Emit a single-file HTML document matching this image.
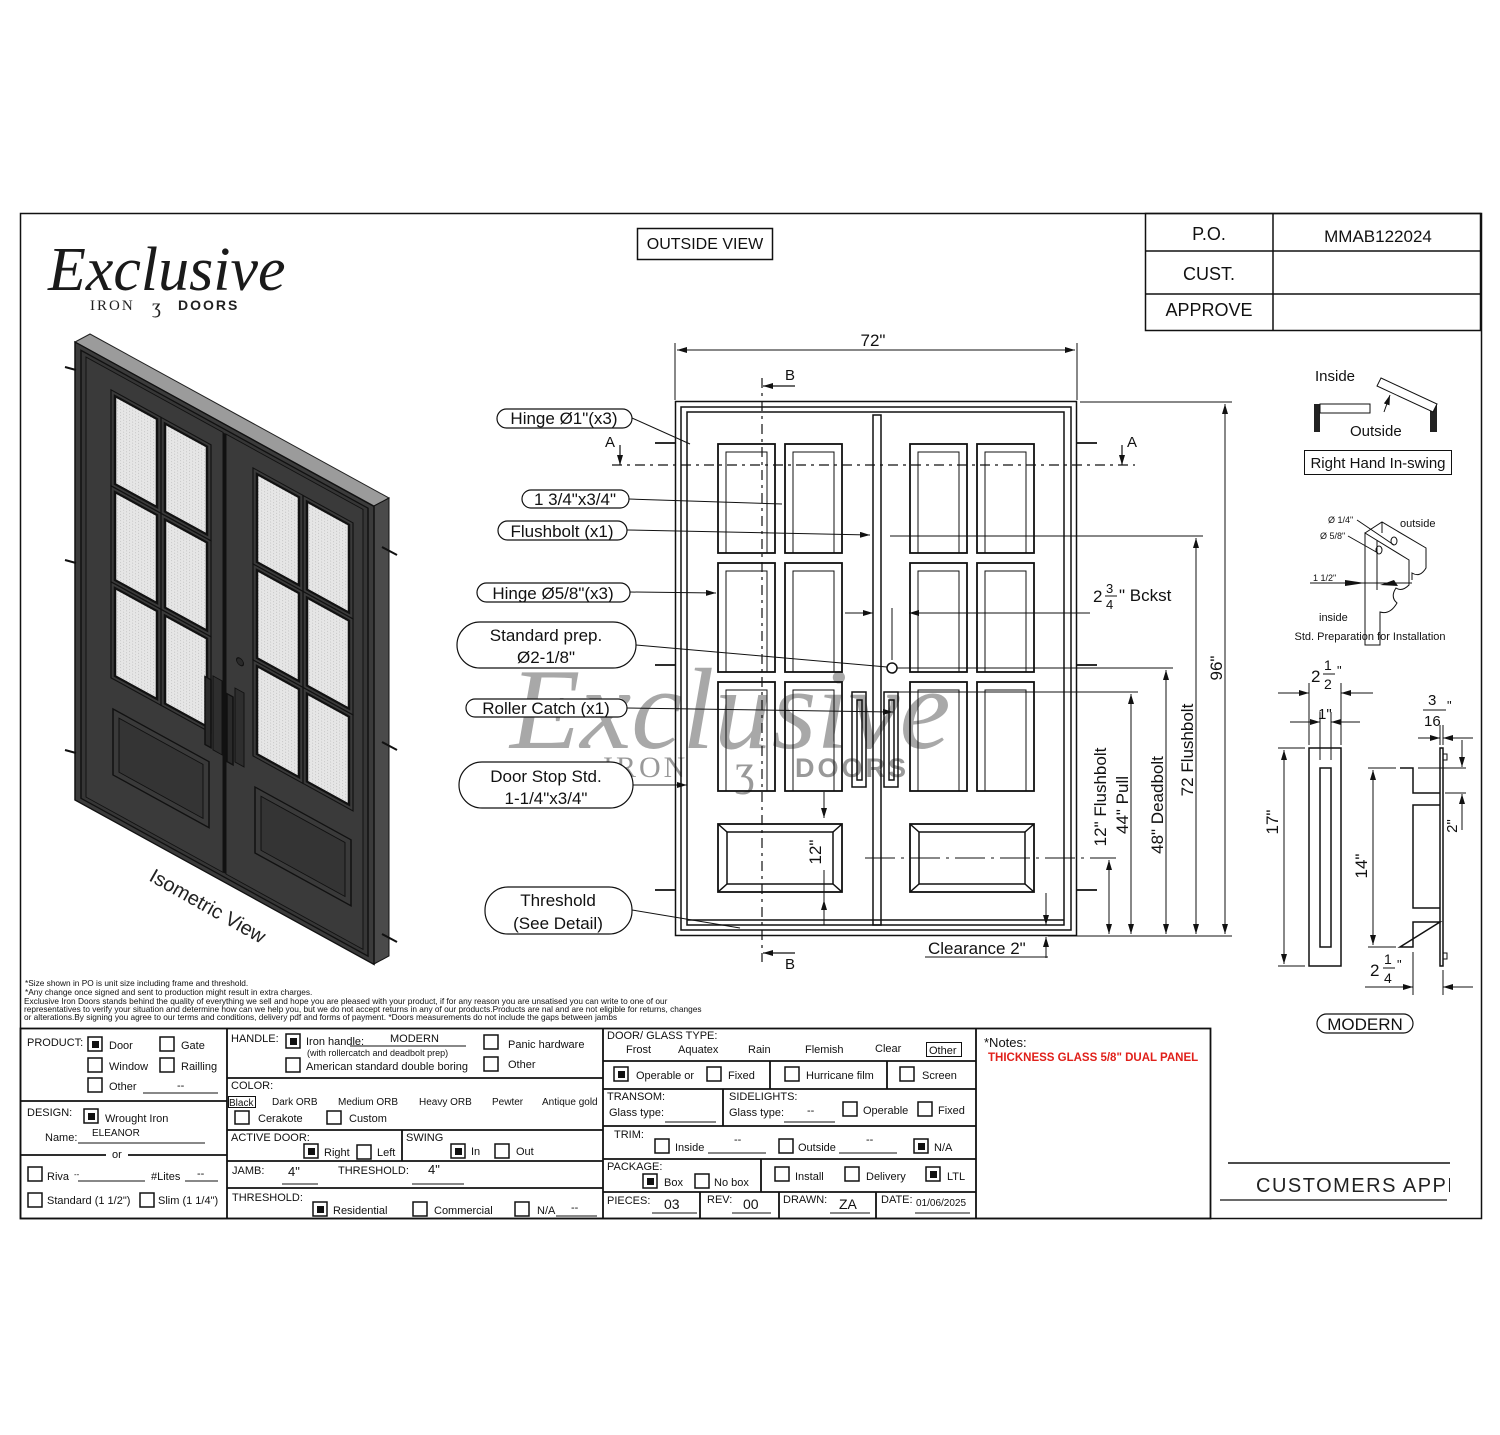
<!DOCTYPE html>
<html><head><meta charset="utf-8"><style>
html,body{margin:0;padding:0;background:#fff}
svg{display:block}
text{font-family:"Liberation Sans",sans-serif}
.t{font-size:11px;fill:#111}
.c{font-size:17px;fill:#111}
.serif{font-family:"Liberation Serif",serif}
.si{font-family:"Liberation Serif",serif;font-style:italic}
</style></head><body>
<svg width="1500" height="1435" viewBox="0 0 1500 1435" xmlns="http://www.w3.org/2000/svg">
<defs>
<marker id="ar" markerWidth="10" markerHeight="6" refX="10" refY="3" orient="auto" markerUnits="userSpaceOnUse"><path d="M0,0 L10,3 L0,6z" fill="#111"/></marker>
<pattern id="scr" width="3" height="3" patternUnits="userSpaceOnUse"><rect width="3" height="3" fill="#e6e6e6"/><rect width="1" height="1" fill="#c4c4c4"/></pattern>
</defs>
<rect width="1500" height="1435" fill="#fff"/>
<rect x="20.5" y="213.5" width="1461" height="1005" fill="none" stroke="#111" stroke-width="1.5"/>

<!-- logo -->
<text x="48" y="290" class="si" font-size="62" fill="#1a1a1a">Exclusive</text>
<text x="90" y="310" class="serif" font-size="15" letter-spacing="2" fill="#222">IRON</text>
<text x="152" y="313" class="serif" font-size="20" fill="#222">ʒ</text>
<text x="178" y="310" font-size="14" font-weight="bold" letter-spacing="2" fill="#222">DOORS</text>

<!-- PO table -->
<g stroke="#111" stroke-width="1.5" fill="none">
<rect x="1145.5" y="213.5" width="335" height="117"/>
<line x1="1273" y1="213" x2="1273" y2="331"/>
<line x1="1145" y1="251" x2="1481" y2="251"/>
<line x1="1145" y1="294" x2="1481" y2="294"/>
</g>
<g font-size="18" fill="#111" text-anchor="middle">
<text x="1209" y="240">P.O.</text>
<text x="1378" y="242" font-size="17">MMAB122024</text>
<text x="1209" y="280">CUST.</text>
<text x="1209" y="316">APPROVE</text>
</g>

<rect x="637.5" y="228.5" width="135" height="31" fill="none" stroke="#111" stroke-width="1.5"/>
<text x="705" y="249" font-size="16" text-anchor="middle" fill="#111">OUTSIDE VIEW</text>

<!-- ISOMETRIC DOOR -->
<polygon points="75,342 90,334 389,498 374,506" fill="#9b9b9b" stroke="#222"/>
<polygon points="374,506 389,498 389,956 374,964" fill="#4a4a4a" stroke="#111"/>
<g transform="matrix(1,0.55,0,1,75,342)" stroke="#111">
<rect x="0" y="0" width="299" height="458" fill="#3b3b3b" stroke-width="1.5"/>
<rect x="6" y="5" width="287" height="448" fill="#363636" stroke-width="1.5"/>
<rect x="11" y="9" width="137" height="440" fill="#3a3a3a"/>
<rect x="151" y="9" width="137" height="440" fill="#3a3a3a"/>
<line x1="149.5" y1="9" x2="149.5" y2="449" stroke-width="2"/>
<g fill="url(#scr)" stroke-width="2.5">
<rect x="40" y="32" width="42" height="88"/><rect x="90" y="32" width="42" height="88"/>
<rect x="40" y="128" width="42" height="88"/><rect x="90" y="128" width="42" height="88"/>
<rect x="40" y="224" width="42" height="88"/><rect x="90" y="224" width="42" height="88"/>
<rect x="182" y="32" width="42" height="88"/><rect x="232" y="32" width="42" height="88"/>
<rect x="182" y="128" width="42" height="88"/><rect x="232" y="128" width="42" height="88"/>
<rect x="182" y="224" width="42" height="88"/><rect x="232" y="224" width="42" height="88"/>
</g>
<g fill="none" stroke="#111" stroke-width="1.2">
<rect x="36" y="28" width="50" height="96"/><rect x="86" y="28" width="50" height="96"/>
<rect x="36" y="124" width="50" height="96"/><rect x="86" y="124" width="50" height="96"/>
<rect x="36" y="220" width="50" height="96"/><rect x="86" y="220" width="50" height="96"/>
<rect x="178" y="28" width="50" height="96"/><rect x="228" y="28" width="50" height="96"/>
<rect x="178" y="124" width="50" height="96"/><rect x="228" y="124" width="50" height="96"/>
<rect x="178" y="220" width="50" height="96"/><rect x="228" y="220" width="50" height="96"/>
</g>
<rect x="38" y="346" width="96" height="66" fill="#3a3a3a" stroke-width="1.5"/>
<rect x="44" y="352" width="84" height="54" fill="#343434" stroke-width="1"/>
<rect x="180" y="346" width="96" height="66" fill="#3a3a3a" stroke-width="1.5"/>
<rect x="186" y="352" width="84" height="54" fill="#343434" stroke-width="1"/>
<rect x="138" y="258" width="9" height="74" fill="#2e2e2e"/>
<rect x="130" y="263" width="6" height="68" fill="#2a2a2a" stroke-width="1.5"/>
<rect x="160" y="258" width="9" height="74" fill="#2e2e2e"/>
<rect x="152" y="268" width="6" height="68" fill="#2a2a2a" stroke-width="1.5"/>
<circle cx="165" cy="229" r="3.5" fill="#2a2a2a" stroke-width="1"/>
</g>
<g stroke="#111" stroke-width="2">
<line x1="65" y1="367" x2="76" y2="370"/><line x1="65" y1="560" x2="76" y2="563"/><line x1="65" y1="750" x2="76" y2="753"/>
<line x1="382" y1="547" x2="397" y2="555"/><line x1="382" y1="742" x2="397" y2="750"/><line x1="382" y1="934" x2="397" y2="942"/>
</g>
<text x="148" y="880" font-size="20" fill="#222" transform="rotate(29.5 148 880)">Isometric View</text>

<!-- WATERMARK -->
<text x="510" y="748" class="si" font-size="115" fill="#7a7a7a" opacity="0.65">Exclusive</text>
<text x="603" y="777" class="serif" font-size="30" letter-spacing="3" fill="#777" opacity="0.75">IRON</text>
<text x="735" y="785" class="serif" font-size="44" fill="#777" opacity="0.75">ʒ</text>
<text x="795" y="777" font-size="27" font-weight="bold" letter-spacing="3" fill="#777" opacity="0.75">DOORS</text>

<!-- FRONT VIEW DOOR -->
<g stroke="#111" fill="none" stroke-width="1.5">
<rect x="675.5" y="401.5" width="401" height="534"/>
<rect x="681" y="407" width="390" height="523"/>
<rect x="687" y="412" width="377" height="513"/>
<line x1="687" y1="920" x2="1064" y2="920"/>
<rect x="873" y="415" width="8" height="510"/>
<g stroke-width="1.8">
<rect x="718" y="444" width="57" height="109"/><rect x="785" y="444" width="57" height="109"/>
<rect x="718" y="563" width="57" height="109"/><rect x="785" y="563" width="57" height="109"/>
<rect x="718" y="682" width="57" height="109"/><rect x="785" y="682" width="57" height="109"/>
<rect x="910" y="444" width="57" height="109"/><rect x="977" y="444" width="57" height="109"/>
<rect x="910" y="563" width="57" height="109"/><rect x="977" y="563" width="57" height="109"/>
<rect x="910" y="682" width="57" height="109"/><rect x="977" y="682" width="57" height="109"/>
</g>
<g stroke-width="1">
<rect x="726" y="452" width="41" height="101"/><rect x="793" y="452" width="41" height="101"/>
<rect x="726" y="571" width="41" height="101"/><rect x="793" y="571" width="41" height="101"/>
<rect x="726" y="690" width="41" height="101"/><rect x="793" y="690" width="41" height="101"/>
<rect x="918" y="452" width="41" height="101"/><rect x="985" y="452" width="41" height="101"/>
<rect x="918" y="571" width="41" height="101"/><rect x="985" y="571" width="41" height="101"/>
<rect x="918" y="690" width="41" height="101"/><rect x="985" y="690" width="41" height="101"/>
</g>
<rect x="718" y="824" width="124" height="68" stroke-width="1.8"/>
<rect x="727" y="832" width="106" height="52"/>
<path d="M718,824 L727,832 M842,824 L833,832 M718,892 L727,884 M842,892 L833,884"/>
<rect x="910" y="824" width="124" height="68" stroke-width="1.8"/>
<rect x="919" y="832" width="106" height="52"/>
<path d="M910,824 L919,832 M1034,824 L1025,832 M910,892 L919,884 M1034,892 L1025,884"/>
<rect x="852" y="692" width="14" height="95"/><rect x="857" y="700" width="5" height="80"/>
<rect x="884" y="692" width="14" height="95"/><rect x="889" y="700" width="5" height="80"/>
<circle cx="892" cy="668" r="5"/>
</g>
<g stroke="#111" stroke-width="1.2" fill="none">
<line x1="612" y1="465" x2="1135" y2="465" stroke-dasharray="10,5,3,5"/>
<line x1="762" y1="378" x2="762" y2="962" stroke-dasharray="10,5,3,5"/>
<line x1="620" y1="445" x2="620" y2="465" marker-end="url(#ar)"/>
<line x1="1122" y1="445" x2="1122" y2="465" marker-end="url(#ar)"/>
<line x1="795" y1="386" x2="763" y2="386" marker-end="url(#ar)"/>
<line x1="795" y1="953" x2="763" y2="953" marker-end="url(#ar)"/>
</g>
<text x="605" y="447" font-size="15" fill="#111">A</text>
<text x="1127" y="447" font-size="15" fill="#111">A</text>
<text x="785" y="380" font-size="15" fill="#111">B</text>
<text x="785" y="969" font-size="15" fill="#111">B</text>
<g stroke="#111" stroke-width="1.8">
<line x1="655" y1="443" x2="675" y2="443"/><line x1="655" y1="665" x2="675" y2="665"/><line x1="655" y1="890" x2="675" y2="890"/>
<line x1="1077" y1="443" x2="1097" y2="443"/><line x1="1077" y1="665" x2="1097" y2="665"/><line x1="1077" y1="890" x2="1097" y2="890"/>
</g>
<g stroke="#111" stroke-width="1" fill="none">
<line x1="675" y1="343" x2="675" y2="400"/><line x1="1077" y1="343" x2="1077" y2="400"/>
<line x1="677" y1="350" x2="1075" y2="350" marker-end="url(#ar)"/><line x1="1075" y1="350" x2="677" y2="350" marker-end="url(#ar)"/>
<line x1="1080" y1="402" x2="1232" y2="402"/><line x1="1048" y1="936" x2="1232" y2="936"/>
<line x1="1225" y1="404" x2="1225" y2="934" marker-end="url(#ar)"/><line x1="1225" y1="934" x2="1225" y2="404" marker-end="url(#ar)"/>
<line x1="890" y1="536" x2="1203" y2="536"/>
<line x1="1196" y1="538" x2="1196" y2="934" marker-end="url(#ar)"/><line x1="1196" y1="934" x2="1196" y2="538" marker-end="url(#ar)"/>
<line x1="897" y1="668" x2="1173" y2="668"/>
<line x1="1166" y1="670" x2="1166" y2="934" marker-end="url(#ar)"/><line x1="1166" y1="934" x2="1166" y2="670" marker-end="url(#ar)"/>
<line x1="898" y1="692" x2="1138" y2="692"/>
<line x1="1131" y1="694" x2="1131" y2="934" marker-end="url(#ar)"/><line x1="1131" y1="934" x2="1131" y2="694" marker-end="url(#ar)"/>
<line x1="865" y1="858" x2="1116" y2="858" stroke-dasharray="30,6,3,6"/>
<line x1="1109" y1="860" x2="1109" y2="934" marker-end="url(#ar)"/><line x1="1109" y1="934" x2="1109" y2="860" marker-end="url(#ar)"/>
<line x1="845" y1="613" x2="873" y2="613" marker-end="url(#ar)"/>
<line x1="1090" y1="613" x2="909" y2="613" marker-end="url(#ar)"/>
<line x1="892" y1="608" x2="892" y2="660"/>
<line x1="824" y1="792" x2="824" y2="818" marker-end="url(#ar)"/>
<line x1="824" y1="925" x2="824" y2="900" marker-end="url(#ar)"/>
<line x1="824" y1="870" x2="824" y2="925"/>
<line x1="1046" y1="893" x2="1046" y2="925" marker-end="url(#ar)"/>
<line x1="1046" y1="958" x2="1046" y2="937" marker-end="url(#ar)"/>
<line x1="925" y1="957" x2="1048" y2="957"/>
</g>
<text x="873" y="346" font-size="17" text-anchor="middle" fill="#111">72"</text>
<text x="1222" y="668" font-size="17" text-anchor="middle" fill="#111" transform="rotate(-90 1222 668)">96"</text>
<text x="1193" y="750" font-size="17" text-anchor="middle" fill="#111" transform="rotate(-90 1193 750)">72 Flushbolt</text>
<text x="1163" y="805" font-size="17" text-anchor="middle" fill="#111" transform="rotate(-90 1163 805)">48" Deadbolt</text>
<text x="1128" y="805" font-size="17" text-anchor="middle" fill="#111" transform="rotate(-90 1128 805)">44" Pull</text>
<text x="1106" y="797" font-size="17" text-anchor="middle" fill="#111" transform="rotate(-90 1106 797)">12" Flushbolt</text>
<text x="821" y="852" font-size="17" text-anchor="middle" fill="#111" transform="rotate(-90 821 852)">12"</text>
<text x="928" y="954" font-size="17" fill="#111">Clearance 2"</text>
<text x="1093" y="602" font-size="17" fill="#111">2</text>
<text x="1106" y="593" font-size="13" fill="#111">3</text>
<line x1="1105" y1="596" x2="1117" y2="596" stroke="#111"/>
<text x="1106" y="609" font-size="13" fill="#111">4</text>
<text x="1119" y="601" font-size="17" fill="#111">" Bckst</text>

<g stroke="#111" stroke-width="1.2" fill="#fff">
<rect x="497" y="409" width="135" height="19" rx="9.5"/>
<rect x="522" y="490" width="107" height="18" rx="9"/>
<rect x="498" y="521" width="129" height="19" rx="9.5"/>
<rect x="477" y="583" width="153" height="19" rx="9.5"/>
<rect x="457" y="622" width="179" height="46" rx="23"/>
<rect x="466" y="699" width="161" height="18" rx="9"/>
<rect x="459" y="762" width="174" height="46" rx="23"/>
<rect x="485" y="887" width="147" height="47" rx="23"/>
</g>
<g stroke="#111" stroke-width="1" fill="none">
<line x1="632" y1="418" x2="690" y2="444"/>
<line x1="629" y1="499" x2="782" y2="504"/>
<line x1="627" y1="530" x2="870" y2="535" marker-end="url(#ar)"/>
<line x1="630" y1="592" x2="716" y2="593" marker-end="url(#ar)"/>
<line x1="636" y1="645" x2="887" y2="667"/>
<line x1="627" y1="708" x2="893" y2="712" marker-end="url(#ar)"/>
<line x1="633" y1="785" x2="687" y2="785" marker-end="url(#ar)"/>
<line x1="632" y1="910" x2="740" y2="928"/>
</g>
<g class="c" text-anchor="middle">
<text x="564" y="424">Hinge Ø1"(x3)</text>
<text x="575" y="505">1 3/4"x3/4"</text>
<text x="562" y="537">Flushbolt (x1)</text>
<text x="553" y="599">Hinge Ø5/8"(x3)</text>
<text x="546" y="641">Standard prep.</text>
<text x="546" y="663">Ø2-1/8"</text>
<text x="546" y="714">Roller Catch (x1)</text>
<text x="546" y="782">Door Stop Std.</text>
<text x="546" y="804">1-1/4"x3/4"</text>
<text x="558" y="906">Threshold</text>
<text x="558" y="929">(See Detail)</text>
</g>

<!-- swing diagram -->
<text x="1315" y="381" font-size="15" fill="#111">Inside</text>
<rect x="1314" y="404" width="6" height="28" fill="#222"/>
<rect x="1320" y="404" width="50" height="9" fill="#fff" stroke="#111"/>
<rect x="1430" y="404" width="7" height="28" fill="#222"/>
<polygon points="1381,378 1437,404 1433,412 1377,386" fill="#fff" stroke="#111"/>
<line x1="1384" y1="412" x2="1390" y2="395" stroke="#111" marker-end="url(#ar)"/>
<text x="1350" y="436" font-size="15" fill="#111">Outside</text>
<rect x="1304.5" y="450.5" width="147" height="24" fill="#fff" stroke="#111"/>
<text x="1378" y="468" font-size="15" text-anchor="middle" fill="#111">Right Hand In-swing</text>

<g stroke="#111" fill="none" stroke-width="1">
<path d="M1365,533 L1382,522 L1426,548 L1426,568 Q1420,578 1412,573 L1412,580"/>
<path d="M1365,533 L1409,560 L1409,585 Q1402,592 1396,588 Q1390,597 1397,603 Q1390,615 1380,612 L1380,645 L1365,645 Z"/>
<path d="M1382,522 L1382,533"/>
<line x1="1357" y1="520" x2="1394" y2="545"/>
<line x1="1348" y1="536" x2="1378" y2="553"/>
<line x1="1377" y1="540" x2="1377" y2="590"/>
<ellipse cx="1394" cy="541" rx="3" ry="4"/><ellipse cx="1379" cy="550" rx="3" ry="4"/>
<line x1="1310" y1="583" x2="1412" y2="583"/>
</g>
<polygon points="1345,580 1365,583 1345,586" fill="#111"/>
<polygon points="1394,580 1398,586 1380,585" fill="#111"/>
<text x="1328" y="523" font-size="9" fill="#111">Ø 1/4"</text>
<text x="1320" y="539" font-size="9" fill="#111">Ø 5/8"</text>
<text x="1400" y="527" font-size="11" fill="#111">outside</text>
<text x="1313" y="581" font-size="9" fill="#111">1 1/2"</text>
<text x="1319" y="621" font-size="11" fill="#111">inside</text>
<text x="1370" y="640" font-size="11" text-anchor="middle" fill="#111">Std. Preparation for Installation</text>

<g stroke="#111" fill="none" stroke-width="1">
<rect x="1309" y="748" width="32" height="218" stroke-width="1.5"/>
<rect x="1320" y="768" width="11" height="179" stroke-width="1.5"/>
<line x1="1309" y1="683" x2="1309" y2="745"/><line x1="1341" y1="683" x2="1341" y2="745"/>
<line x1="1320" y1="712" x2="1320" y2="760"/><line x1="1331" y1="712" x2="1331" y2="760"/>
<line x1="1278" y1="693" x2="1309" y2="693" marker-end="url(#ar)"/><line x1="1373" y1="693" x2="1341" y2="693" marker-end="url(#ar)"/>
<line x1="1290" y1="722" x2="1320" y2="722" marker-end="url(#ar)"/><line x1="1360" y1="722" x2="1331" y2="722" marker-end="url(#ar)"/>
<line x1="1278" y1="748" x2="1305" y2="748"/><line x1="1278" y1="966" x2="1305" y2="966"/>
<line x1="1284" y1="750" x2="1284" y2="964" marker-end="url(#ar)"/><line x1="1284" y1="964" x2="1284" y2="750" marker-end="url(#ar)"/>
<path d="M1400,768 L1413,768 L1413,793 L1440,793 M1440,805 L1413,805 L1413,908 L1440,908 M1440,922 L1413,922 L1413,947 L1400,947 Z" stroke-width="1.5"/>
<rect x="1440" y="748" width="3" height="218" stroke-width="1.5"/>
<rect x="1443" y="754" width="4" height="6"/><rect x="1443" y="953" width="4" height="6"/>
<line x1="1368" y1="768" x2="1396" y2="768"/><line x1="1368" y1="947" x2="1396" y2="947"/>
<line x1="1373" y1="770" x2="1373" y2="945" marker-end="url(#ar)"/><line x1="1373" y1="945" x2="1373" y2="770" marker-end="url(#ar)"/>
<line x1="1418" y1="768" x2="1466" y2="768"/><line x1="1445" y1="793" x2="1466" y2="793"/>
<line x1="1462" y1="740" x2="1462" y2="767" marker-end="url(#ar)"/><line x1="1462" y1="830" x2="1462" y2="794" marker-end="url(#ar)"/>
<line x1="1440" y1="725" x2="1440" y2="745"/><line x1="1443" y1="725" x2="1443" y2="745"/>
<line x1="1418" y1="738" x2="1440" y2="738" marker-end="url(#ar)"/><line x1="1473" y1="738" x2="1443" y2="738" marker-end="url(#ar)"/>
<line x1="1413" y1="952" x2="1413" y2="995"/><line x1="1443" y1="970" x2="1443" y2="995"/>
<line x1="1365" y1="987" x2="1413" y2="987" marker-end="url(#ar)"/><line x1="1473" y1="987" x2="1443" y2="987" marker-end="url(#ar)"/>
</g>
<g font-size="17" fill="#111">
<text x="1311" y="682">2</text><text x="1324" y="670" font-size="14">1</text><line x1="1323" y1="674" x2="1335" y2="674" stroke="#111"/><text x="1324" y="689" font-size="14">2</text><text x="1337" y="675" font-size="13">"</text>
<text x="1318" y="719" font-size="15">1"</text>
<text x="1278" y="822" text-anchor="middle" transform="rotate(-90 1278 822)">17"</text>
<text x="1367" y="866" text-anchor="middle" transform="rotate(-90 1367 866)">14"</text>
<text x="1457" y="826" text-anchor="middle" font-size="15" transform="rotate(-90 1457 826)">2"</text>
<text x="1428" y="705" font-size="15">3</text><line x1="1423" y1="710" x2="1446" y2="710" stroke="#111"/><text x="1424" y="726" font-size="15">16</text><text x="1447" y="710" font-size="13">"</text>
<text x="1370" y="976">2</text><text x="1384" y="964" font-size="14">1</text><line x1="1383" y1="968" x2="1395" y2="968" stroke="#111"/><text x="1384" y="983" font-size="14">4</text><text x="1397" y="969" font-size="13">"</text>
</g>
<rect x="1317" y="1014" width="96" height="19" rx="9.5" fill="none" stroke="#111" stroke-width="1.2"/>
<text x="1365" y="1030" font-size="17" text-anchor="middle" fill="#111">MODERN</text>

<g font-size="8.3" fill="#111">
<text x="25" y="986">*Size shown in PO is unit size including frame and threshold.</text>
<text x="25" y="995">*Any change once signed and sent to production might result in extra charges.</text>
<text x="24" y="1004">Exclusive Iron Doors stands behind the quality of everything we sell and hope you are pleased with your product, if for any reason you are unsatised you can write to one of our</text>
<text x="24" y="1012">representatives to verify your situation and determine how can we help you, but we do not accept returns in any of our products.Products are nal and are not eligible for returns, changes</text>
<text x="24" y="1020">or alterations.By signing you agree to our terms and conditions, delivery pdf and forms of payment. *Doors measurements do not include the gaps between jambs</text>
</g>

<!-- BOTTOM TABLE -->
<g stroke="#111" stroke-width="1.8" fill="none">
<rect x="20.5" y="1028.5" width="1190" height="190"/>
<line x1="227" y1="1028" x2="227" y2="1219"/>
<line x1="603" y1="1028" x2="603" y2="1219"/>
<line x1="976" y1="1028" x2="976" y2="1219"/>
<line x1="20" y1="1101" x2="227" y2="1101"/>
<line x1="20" y1="1155" x2="227" y2="1155"/>
<line x1="227" y1="1078" x2="603" y2="1078"/>
<line x1="227" y1="1130" x2="603" y2="1130"/>
<line x1="402" y1="1130" x2="402" y2="1161"/>
<line x1="227" y1="1161" x2="603" y2="1161"/>
<line x1="227" y1="1188" x2="603" y2="1188"/>
<line x1="603" y1="1061" x2="976" y2="1061"/>
<line x1="770" y1="1061" x2="770" y2="1089"/><line x1="887" y1="1061" x2="887" y2="1089"/>
<line x1="603" y1="1089" x2="976" y2="1089"/>
<line x1="723" y1="1089" x2="723" y2="1126"/>
<line x1="603" y1="1126" x2="976" y2="1126"/>
<line x1="603" y1="1159" x2="976" y2="1159"/>
<line x1="761" y1="1159" x2="761" y2="1192"/>
<line x1="603" y1="1192" x2="976" y2="1192"/>
<line x1="700" y1="1192" x2="700" y2="1219"/><line x1="779" y1="1192" x2="779" y2="1219"/><line x1="876" y1="1192" x2="876" y2="1219"/>
</g>
<rect x="106" y="1149" width="22" height="12" fill="#fff"/>
<g stroke="#111" stroke-width="1.5" fill="#fff">
<rect x="88" y="1037" width="14" height="14"/><rect x="160" y="1037" width="14" height="14"/>
<rect x="88" y="1058" width="14" height="14"/><rect x="160" y="1058" width="14" height="14"/>
<rect x="88" y="1078" width="14" height="14"/>
<rect x="84" y="1109" width="14" height="14"/>
<rect x="28" y="1167" width="14" height="14"/>
<rect x="28" y="1193" width="14" height="14"/><rect x="140" y="1193" width="14" height="14"/>
<rect x="286" y="1034" width="14" height="14"/><rect x="286" y="1058" width="14" height="14"/>
<rect x="484" y="1035" width="14" height="14"/><rect x="484" y="1057" width="14" height="14"/>
<rect x="235" y="1111" width="14" height="13"/><rect x="327" y="1111" width="14" height="13"/>
<rect x="304" y="1144" width="14" height="14"/><rect x="357" y="1145" width="14" height="14"/>
<rect x="451" y="1144" width="14" height="14"/><rect x="495" y="1144" width="14" height="14"/>
<rect x="313" y="1202" width="14" height="14"/><rect x="413" y="1202" width="14" height="14"/><rect x="515" y="1202" width="14" height="14"/>
<rect x="614" y="1067" width="14" height="14"/><rect x="707" y="1067" width="14" height="14"/>
<rect x="785" y="1067" width="14" height="14"/><rect x="900" y="1067" width="14" height="14"/>
<rect x="843" y="1102" width="14" height="14"/><rect x="918" y="1102" width="14" height="14"/>
<rect x="655" y="1139" width="14" height="14"/><rect x="779" y="1139" width="14" height="14"/><rect x="914" y="1139" width="14" height="14"/>
<rect x="643" y="1174" width="14" height="14"/><rect x="695" y="1174" width="14" height="14"/>
<rect x="775" y="1167" width="14" height="14"/><rect x="845" y="1167" width="14" height="14"/><rect x="926" y="1167" width="14" height="14"/>
</g>
<g fill="#111">
<rect x="92" y="1041" width="7" height="7"/><rect x="88" y="1113" width="7" height="7"/>
<rect x="290" y="1038" width="7" height="7"/><rect x="308" y="1148" width="7" height="7"/>
<rect x="455" y="1148" width="7" height="7"/><rect x="317" y="1206" width="7" height="7"/>
<rect x="618" y="1071" width="7" height="7"/><rect x="918" y="1143" width="7" height="7"/>
<rect x="647" y="1178" width="7" height="7"/><rect x="930" y="1171" width="7" height="7"/>
</g>
<g stroke="#111" stroke-width="1">
<line x1="143" y1="1093" x2="218" y2="1093"/><line x1="78" y1="1143" x2="205" y2="1143"/>
<line x1="78" y1="1181" x2="145" y2="1181"/><line x1="185" y1="1181" x2="218" y2="1181"/>
<line x1="350" y1="1046" x2="466" y2="1046"/>
<line x1="282" y1="1184" x2="318" y2="1184"/><line x1="412" y1="1184" x2="464" y2="1184"/>
<line x1="556" y1="1216" x2="597" y2="1216"/>
<line x1="665" y1="1122" x2="716" y2="1122"/><line x1="784" y1="1122" x2="835" y2="1122"/>
<line x1="708" y1="1153" x2="766" y2="1153"/><line x1="839" y1="1153" x2="897" y2="1153"/>
<line x1="652" y1="1213" x2="697" y2="1213"/><line x1="732" y1="1213" x2="771" y2="1213"/>
<line x1="830" y1="1213" x2="870" y2="1213"/><line x1="915" y1="1213" x2="970" y2="1213"/>
</g>
<rect x="228.5" y="1096.5" width="27" height="11" fill="none" stroke="#111"/>
<rect x="926.5" y="1042.5" width="35" height="14" fill="none" stroke="#111"/>
<g class="t">
<text x="27" y="1046">PRODUCT:</text><text x="109" y="1049">Door</text><text x="181" y="1049">Gate</text>
<text x="109" y="1070">Window</text><text x="181" y="1070">Railling</text>
<text x="109" y="1090">Other</text><text x="177" y="1089">--</text>
<text x="27" y="1116">DESIGN:</text><text x="105" y="1122">Wrought Iron</text>
<text x="45" y="1141">Name:</text><text x="92" y="1136" font-size="10">ELEANOR</text>
<text x="112" y="1158">or</text>
<text x="47" y="1180">Riva</text><text x="74" y="1177" font-size="8">--</text><text x="151" y="1180">#Lites</text><text x="197" y="1177">--</text>
<text x="47" y="1204">Standard (1 1/2")</text><text x="158" y="1204">Slim (1 1/4")</text>
<text x="231" y="1042">HANDLE:</text><text x="306" y="1045">Iron handle:</text><text x="390" y="1042">MODERN</text>
<text x="307" y="1056" font-size="9">(with rollercatch and deadbolt prep)</text>
<text x="306" y="1070">American standard double boring</text>
<text x="508" y="1048">Panic hardware</text><text x="508" y="1068">Other</text>
<text x="231" y="1089">COLOR:</text>
<text x="229" y="1106" font-size="10">Black</text><text x="272" y="1105" font-size="10">Dark ORB</text><text x="338" y="1105" font-size="10">Medium ORB</text>
<text x="419" y="1105" font-size="10">Heavy ORB</text><text x="492" y="1105" font-size="10">Pewter</text><text x="542" y="1105" font-size="10">Antique gold</text>
<text x="258" y="1122">Cerakote</text><text x="349" y="1122">Custom</text>
<text x="231" y="1141">ACTIVE DOOR:</text><text x="324" y="1156">Right</text><text x="377" y="1156">Left</text>
<text x="406" y="1141">SWING</text><text x="471" y="1155">In</text><text x="516" y="1155">Out</text>
<text x="232" y="1174">JAMB:</text><text x="288" y="1176" font-size="13">4"</text>
<text x="338" y="1174">THRESHOLD:</text><text x="428" y="1174" font-size="13">4"</text>
<text x="232" y="1201">THRESHOLD:</text><text x="333" y="1214">Residential</text><text x="434" y="1214">Commercial</text>
<text x="537" y="1214">N/A</text><text x="571" y="1211">--</text>
<text x="607" y="1039">DOOR/ GLASS TYPE:</text>
<text x="626" y="1053">Frost</text><text x="678" y="1053">Aquatex</text><text x="748" y="1053">Rain</text>
<text x="805" y="1053">Flemish</text><text x="875" y="1052">Clear</text><text x="929" y="1054">Other</text>
<text x="636" y="1079">Operable  or</text><text x="728" y="1079">Fixed</text>
<text x="806" y="1079">Hurricane film</text><text x="922" y="1079">Screen</text>
<text x="607" y="1100">TRANSOM:</text><text x="609" y="1116">Glass type:</text>
<text x="729" y="1100">SIDELIGHTS:</text><text x="729" y="1116">Glass type:</text><text x="807" y="1114">--</text>
<text x="863" y="1114">Operable</text><text x="938" y="1114">Fixed</text>
<text x="614" y="1138">TRIM:</text><text x="675" y="1151">Inside</text><text x="734" y="1143">--</text>
<text x="798" y="1151">Outside</text><text x="866" y="1143">--</text><text x="934" y="1151">N/A</text>
<text x="607" y="1170">PACKAGE:</text><text x="664" y="1186">Box</text><text x="714" y="1186">No box</text>
<text x="795" y="1180">Install</text><text x="866" y="1180">Delivery</text><text x="947" y="1180">LTL</text>
<text x="607" y="1204">PIECES:</text><text x="664" y="1209" font-size="14">03</text>
<text x="707" y="1203">REV:</text><text x="743" y="1209" font-size="14">00</text>
<text x="783" y="1203">DRAWN:</text><text x="839" y="1209" font-size="14">ZA</text>
<text x="881" y="1203">DATE:</text><text x="916" y="1206" font-size="10">01/06/2025</text>
</g>
<text x="984" y="1047" font-size="13" fill="#111">*Notes:</text>
<text x="988" y="1061" font-size="11.5" font-weight="bold" fill="#e0201a">THICKNESS GLASS 5/8" DUAL PANEL</text>

<line x1="1228" y1="1163" x2="1450" y2="1163" stroke="#111" stroke-width="1.5"/>
<svg x="1220" y="1168" width="230" height="32"><text x="36" y="24" font-size="20" letter-spacing="1.5" fill="#222">CUSTOMERS APPROVAL</text></svg>
<line x1="1220" y1="1200" x2="1447" y2="1200" stroke="#111" stroke-width="1.2"/>
</svg>
</body></html>
